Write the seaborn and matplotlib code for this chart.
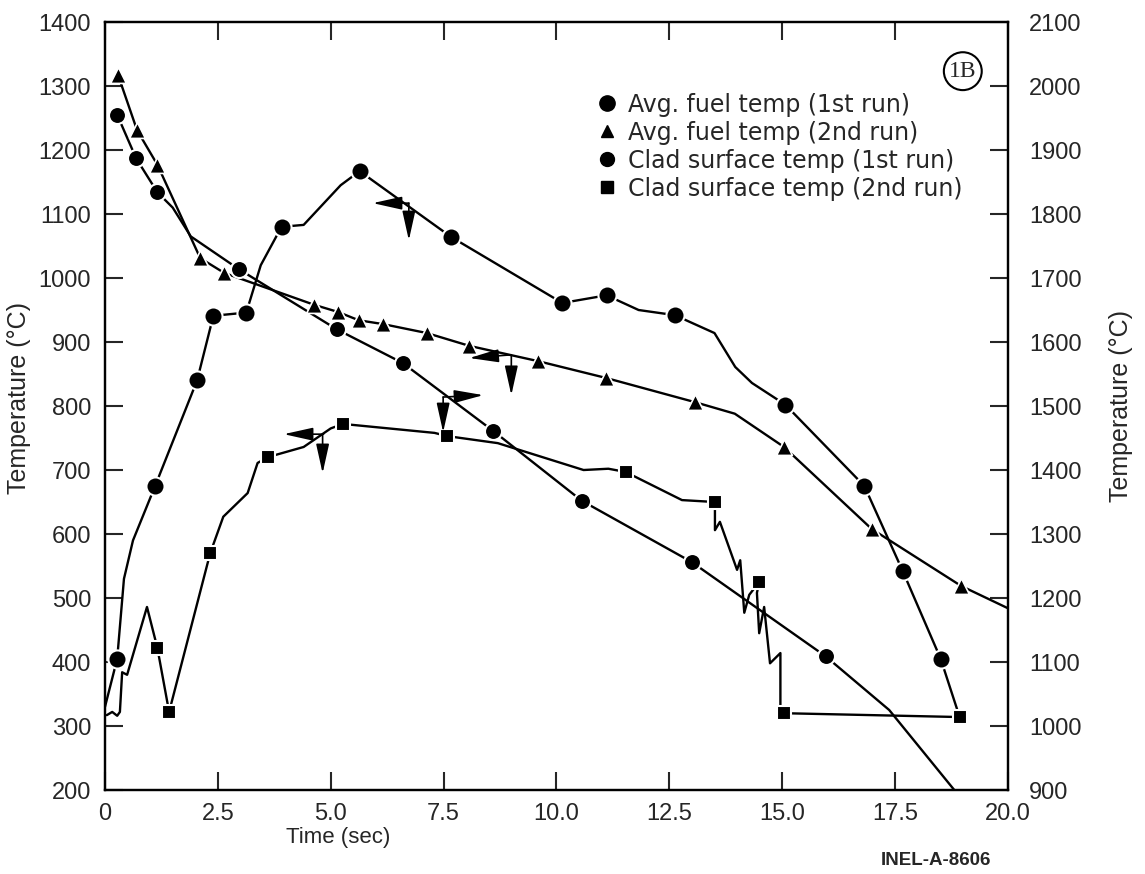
import matplotlib
matplotlib.use('Agg')
import matplotlib.pyplot as plt
from matplotlib.lines import Line2D
import seaborn as sns

# clad surface temp, 1st run (left axis) - marker points
clad1_t = [0.27, 1.11, 2.04, 2.40, 3.13, 3.91, 5.64, 7.67, 10.13, 11.11, 12.62, 15.07, 16.82, 17.67, 18.51]
clad1_T = [405, 675, 840, 941, 946, 1080, 1167, 1064, 961, 973, 942, 802, 675, 542, 405]
# traced curve
clad1_line_t = [0.0, 0.27, 0.42, 0.62, 1.11, 2.04, 2.40, 3.13, 3.45, 3.91, 4.40, 5.22, 5.64, 7.67,
                10.13, 11.11, 11.82, 12.62, 13.5, 13.96, 14.33, 15.07, 16.82, 17.67, 18.51, 18.93]
clad1_line_T = [330, 405, 530, 590, 675, 840, 941, 946, 1020, 1080, 1083, 1145, 1167, 1064,
                961, 973, 950, 942, 914, 861, 836, 802, 675, 542, 405, 314]

# clad surface temp, 2nd run (left axis)
clad2_t = [1.16, 1.42, 2.33, 3.60, 5.27, 7.58, 11.53, 13.51, 14.49, 15.04, 18.93]
clad2_T = [422, 322, 570, 720, 772, 753, 697, 650, 525, 320, 314]
clad2_line_t = [0.04, 0.16, 0.27, 0.33, 0.38, 0.49, 0.93, 1.16, 1.42, 2.33, 2.62, 3.16, 3.38, 3.60,
                4.40, 5.0, 5.27, 7.3, 7.58, 8.7, 10.6, 11.15, 11.53, 12.78, 13.51, 13.51, 13.62,
                14.0, 14.07, 14.16, 14.27, 14.49, 14.44, 14.49, 14.6, 14.73, 14.96, 14.96, 15.04, 18.93]
clad2_line_T = [317, 322, 316, 322, 384, 380, 486, 422, 322, 570, 627, 664, 711, 720,
                736, 765, 772, 758, 753, 742, 700, 702, 697, 653, 650, 606, 619,
                544, 559, 477, 505, 525, 508, 445, 486, 398, 414, 325, 320, 314]

# avg fuel temp, 1st run (right axis)
fuel1_t = [0.27, 0.69, 1.16, 2.96, 5.13, 6.60, 8.60, 10.56, 13.00, 15.96]
fuel1_T = [1955, 1887, 1834, 1714, 1620, 1567, 1461, 1352, 1256, 1109]
fuel1_line_t = [0.27, 0.69, 1.16, 1.5, 1.9, 2.96, 5.13, 6.60, 8.60, 10.56, 13.00, 15.96, 17.37, 19.1]
fuel1_line_T = [1955, 1887, 1834, 1810, 1765, 1714, 1620, 1567, 1461, 1352, 1256, 1109, 1025, 875]

# avg fuel temp, 2nd run (right axis)
fuel2_t = [0.29, 0.71, 1.16, 2.11, 2.64, 4.64, 5.16, 5.62, 6.16, 7.13, 8.07, 9.60, 11.09, 13.07, 15.04, 16.98, 18.96]
fuel2_T = [2017, 1931, 1877, 1731, 1708, 1658, 1647, 1634, 1628, 1614, 1594, 1570, 1544, 1506, 1436, 1308, 1219]
fuel2_line_t = fuel2_t[:14] + [13.95] + fuel2_t[14:] + [20.0]
fuel2_line_T = fuel2_T[:14] + [1488] + fuel2_T[14:] + [1184]

legend_labels = ['Avg. fuel temp (1st run)', 'Avg. fuel temp (2nd run)',
                 'Clad surface temp (1st run)', 'Clad surface temp (2nd run)']
xtick_vals = [0, 2.5, 5, 7.5, 10, 12.5, 15, 17.5, 20]
xtick_labels = ['0', '2.5', '5.0', '7.5', '10.0', '12.5', '15.0', '17.5', '20.0']

sns.set_style('ticks')
plt.rcParams['font.family'] = ['Liberation Sans', 'DejaVu Sans']

fig = plt.figure(figsize=(11.45, 8.74), dpi=100)
ax = fig.add_axes([0.0917, 0.0961, 0.7886, 0.8787])
ax2 = ax.twinx()

lw = 1.7
sns.lineplot(x=clad1_line_t, y=clad1_line_T, ax=ax, color='k', lw=lw, sort=False, estimator=None)
sns.lineplot(x=clad2_line_t, y=clad2_line_T, ax=ax, color='k', lw=lw, sort=False, estimator=None)
sns.lineplot(x=fuel1_line_t, y=fuel1_line_T, ax=ax2, color='k', lw=lw, sort=False, estimator=None)
sns.lineplot(x=fuel2_line_t, y=fuel2_line_T, ax=ax2, color='k', lw=lw, sort=False, estimator=None)

sns.scatterplot(x=clad1_t, y=clad1_T, ax=ax, marker='o', s=170, color='k', edgecolor='white', linewidth=1.5, zorder=3)
sns.scatterplot(x=clad2_t, y=clad2_T, ax=ax, marker='s', s=110, color='k', edgecolor='white', linewidth=1.5, zorder=3)
sns.scatterplot(x=fuel1_t, y=fuel1_T, ax=ax2, marker='o', s=150, color='k', edgecolor='white', linewidth=1.5, zorder=3)
sns.scatterplot(x=fuel2_t, y=fuel2_T, ax=ax2, marker='^', s=130, color='k', edgecolor='white', linewidth=1.2, zorder=3)

ax.set_xlim(0, 20)
ax.set_ylim(200, 1400)
ax2.set_ylim(900, 2100)
ax.set_xticks(xtick_vals)
ax.set_xticklabels(xtick_labels)
ax.set_yticks(range(200, 1401, 100))
ax2.set_yticks(range(900, 2101, 100))

ax.tick_params(axis='x', direction='in', length=13, width=1.5, labelsize=17, pad=9, top=True)
ax.tick_params(axis='y', direction='in', length=13, width=1.5, labelsize=17, pad=10)
ax2.tick_params(axis='y', direction='in', length=13, width=1.5, labelsize=17, pad=15)
for a in (ax, ax2):
    for sp in a.spines.values():
        sp.set_linewidth(1.6)
        sp.set_color('k')

ax.set_xlabel('Time (sec)', fontsize=16)
ax.xaxis.set_label_coords(0.258, -0.062)
ax.xaxis.label.set_va('center')
ax.set_ylabel('Temperature (°C)', fontsize=18)
ax.yaxis.set_label_coords(-0.095, 0.51)
ax.yaxis.label.set_va('center')
ax2.set_ylabel('Temperature (°C)', fontsize=18)
ax2.yaxis.set_label_coords(1.125, 0.5)
ax2.yaxis.label.set_va('center')

# axis arrows: (tip, tail)
head = dict(arrowstyle='-|>,head_length=1.8,head_width=0.4', color='k', lw=1.2,
            mutation_scale=10, shrinkA=0, shrinkB=0)
arrows = [((5.93, 1117), (6.73, 1117)), ((6.73, 1059), (6.73, 1117)),
          ((8.07, 875), (9.0, 880)), ((9.0, 817), (9.0, 880)),
          ((8.38, 817), (7.49, 814)), ((7.49, 759), (7.49, 814)),
          ((3.96, 756), (4.84, 756)), ((4.82, 695), (4.82, 755))]
for tip, tail in arrows:
    ax.annotate('', xy=tip, xytext=tail, arrowprops=head)

ax.text(0.950, 0.936, '1B', transform=ax.transAxes, fontsize=17, family='Liberation Serif',
        ha='center', va='center',
        bbox=dict(boxstyle='circle,pad=0.22', fc='white', ec='k', lw=1.5))

handles = [Line2D([], [], marker='o', ls='none', color='k', ms=11),
           Line2D([], [], marker='^', ls='none', color='k', ms=8),
           Line2D([], [], marker='o', ls='none', color='k', ms=10),
           Line2D([], [], marker='s', ls='none', color='k', ms=8)]
ax2.legend(handles, legend_labels, loc='upper left', bbox_to_anchor=(0.545, 0.908),
           frameon=False, prop={'family': 'DejaVu Sans', 'size': 17},
           handlelength=0.8, handletextpad=0.5,
           labelspacing=0.17, borderaxespad=0, borderpad=0)

fig.text(0.8175, 0.016, 'INEL-A-8606', fontsize=13.5, fontweight='bold', ha='center', va='center')

fig.savefig('out.png', dpi=100)
